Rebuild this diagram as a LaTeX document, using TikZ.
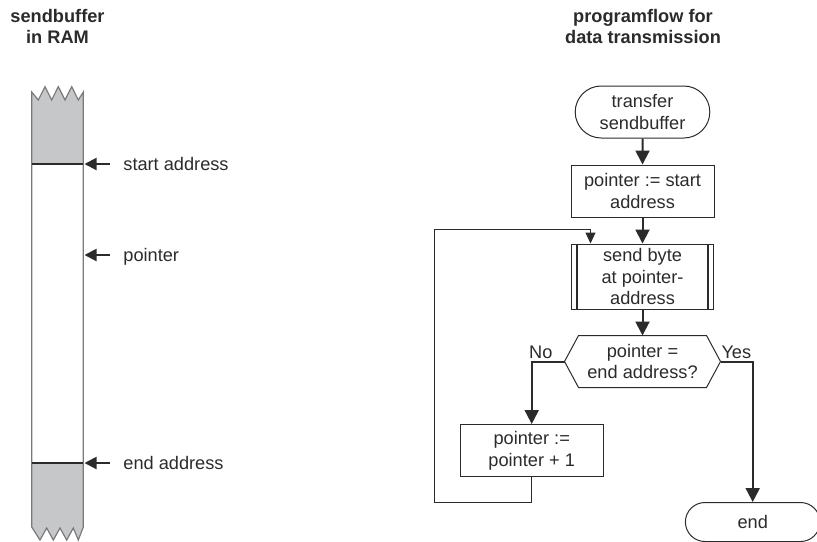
\documentclass[tikz,border=0pt]{standalone}
\usepackage{fontspec}
\setmainfont{Liberation Sans}
\usetikzlibrary{arrows.meta,shapes.misc,positioning}
\definecolor{ink}{HTML}{2B2B2B}
\definecolor{memgray}{HTML}{C6C7C9}
\definecolor{edgegray}{HTML}{7A7A7A}
\tikzset{
  basic/.style   = {draw=ink, line width=0.5pt, align=center, text=ink,
                    font=\fontsize{9.1}{10.9}\selectfont, inner xsep=2pt, inner ysep=0.5pt},
  term/.style    = {basic, rounded rectangle, minimum width=71.3pt, minimum height=26pt},
  proc/.style    = {basic, rectangle, minimum width=71.5pt, minimum height=26pt},
  subproc/.style = {proc, minimum width=71.3pt, minimum height=32.5pt},
  decide/.style  = {basic, draw=none, outer sep=0pt, minimum width=64pt, minimum height=26pt},
  title/.style   = {align=center, text=ink, font=\bfseries\fontsize{9.1}{10.5}\selectfont},
  memlbl/.style  = {anchor=west, text=ink, font=\fontsize{9.1}{10.9}\selectfont,
                    text height=6pt, text depth=0pt, inner sep=0pt},
  flowlbl/.style = {text=ink, font=\fontsize{9.1}{10.9}\selectfont, inner sep=0pt},
  flow/.style    = {draw=ink, line width=1pt, -{Triangle[width=7pt,length=7pt]}},
  back/.style    = {draw=ink, line width=0.5pt, -{Triangle[width=5pt,length=5.5pt]}},
  memarrow/.style= {draw=ink, line width=1pt, -{Triangle[width=6pt,length=6pt]}}
}

\begin{document}
\begin{tikzpicture}[x=0.5pt, y=-0.5pt, node distance=13pt]
  \useasboundingbox (0,0) rectangle (817,541);

  % titles
  \node[title] (ttlmem) at (57.5,26.5) {sendbuffer\\in RAM};
  \node[title] (ttlflow) at (643,26.5) {programflow for\\data transmission};

  % the sendbuffer in RAM, torn at both ends
  \fill[memgray] (31.7,164) -- (31.7,92) -- (38.3,100) -- (45,86.7) -- (51.7,100)
    -- (58.3,86.7) -- (65,100) -- (71.7,86.7) -- (78.3,100) -- (83.3,92) -- (83.3,164) -- cycle;
  \fill[memgray] (31.7,463) -- (31.7,527) -- (40,540) -- (46.7,528) -- (53.3,540)
    -- (60,528) -- (66.7,540) -- (73.3,528) -- (78.3,540) -- (83.3,527) -- (83.3,463) -- cycle;
  \draw[edgegray, line width=0.6pt] (31.7,527) -- (31.7,92) -- (38.3,100) -- (45,86.7) -- (51.7,100)
    -- (58.3,86.7) -- (65,100) -- (71.7,86.7) -- (78.3,100) -- (83.3,92) -- (83.3,527)
    -- (78.3,540) -- (73.3,528) -- (66.7,540) -- (60,528) -- (53.3,540) -- (46.7,528) -- (40,540) -- cycle;
  \draw[ink, line width=0.6pt] (31.7,164) -- (83.3,164);
  \draw[ink, line width=0.6pt] (31.7,463) -- (83.3,463);

  % places on the buffer that the labels point to
  \coordinate (atstart) at (84.5,164);
  \coordinate (atptr)   at (84.5,255);
  \coordinate (atend)   at (84.5,463);
  \node[memlbl] (lstart) at (123,164) {start address};
  \node[memlbl] (lptr)   at (123,255) {pointer};
  \node[memlbl] (lend)   at (123,463) {end address};
  \foreach \where/\lbl in {atstart/lstart, atptr/lptr, atend/lend}
    \draw[memarrow] ([xshift=-6.5pt]\lbl.west) -- (\where);

  % the program flow, placed one below the other
  \node[term] (begin) at (642.5,112) {transfer\\sendbuffer};
  \node[proc, below=of begin] (setptr) {pointer := start\\address};
  \node[subproc, below=of setptr] (sendb) {send byte\\at pointer-\\address};
  \node[decide, below=of sendb] (isend) {pointer =\\end address?};
  \node[proc] (incptr) at (531.7,450.5) {pointer :=\\pointer + 1};
  \node[term, minimum height=19.5pt] (stop) at (752.7,522) {end};

  % extra bars of the subroutine box
  \draw[ink, line width=1pt] ([xshift=3pt]sendb.north west) -- ([xshift=3pt]sendb.south west);
  \draw[ink, line width=1pt] ([xshift=-3pt]sendb.north east) -- ([xshift=-3pt]sendb.south east);

  % the hexagon of the decision
  \coordinate (isendL) at ([xshift=-7pt]isend.west);
  \coordinate (isendR) at ([xshift=7pt]isend.east);
  \draw[ink, line width=0.5pt] (isend.north west) -- (isend.north east) -- (isendR)
    -- (isend.south east) -- (isend.south west) -- (isendL) -- cycle;
  \node[flowlbl, anchor=south east] (lno) at ([xshift=-5.8pt,yshift=1.3pt]isendL) {No};
  \node[flowlbl, anchor=south west] (lyes) at ([xshift=0.3pt,yshift=1.3pt]isendR) {Yes};

  % arrows between the steps
  \draw[flow] (begin) -- (setptr);
  \draw[flow] (setptr) -- (sendb);
  \draw[flow] (sendb) -- (isend);
  \draw[flow] (isendL) -| (incptr.north);
  \draw[flow] (isendR) -| (stop.north);

  % loop back to the next byte
  \coordinate (loopbl) at (434.3,502.3);
  \coordinate (looptl) at (434.3,229.3);
  \draw[back] (incptr.south) |- (loopbl) -- (looptl) -| ([xshift=-26pt]sendb.north);
\end{tikzpicture}
\end{document}
